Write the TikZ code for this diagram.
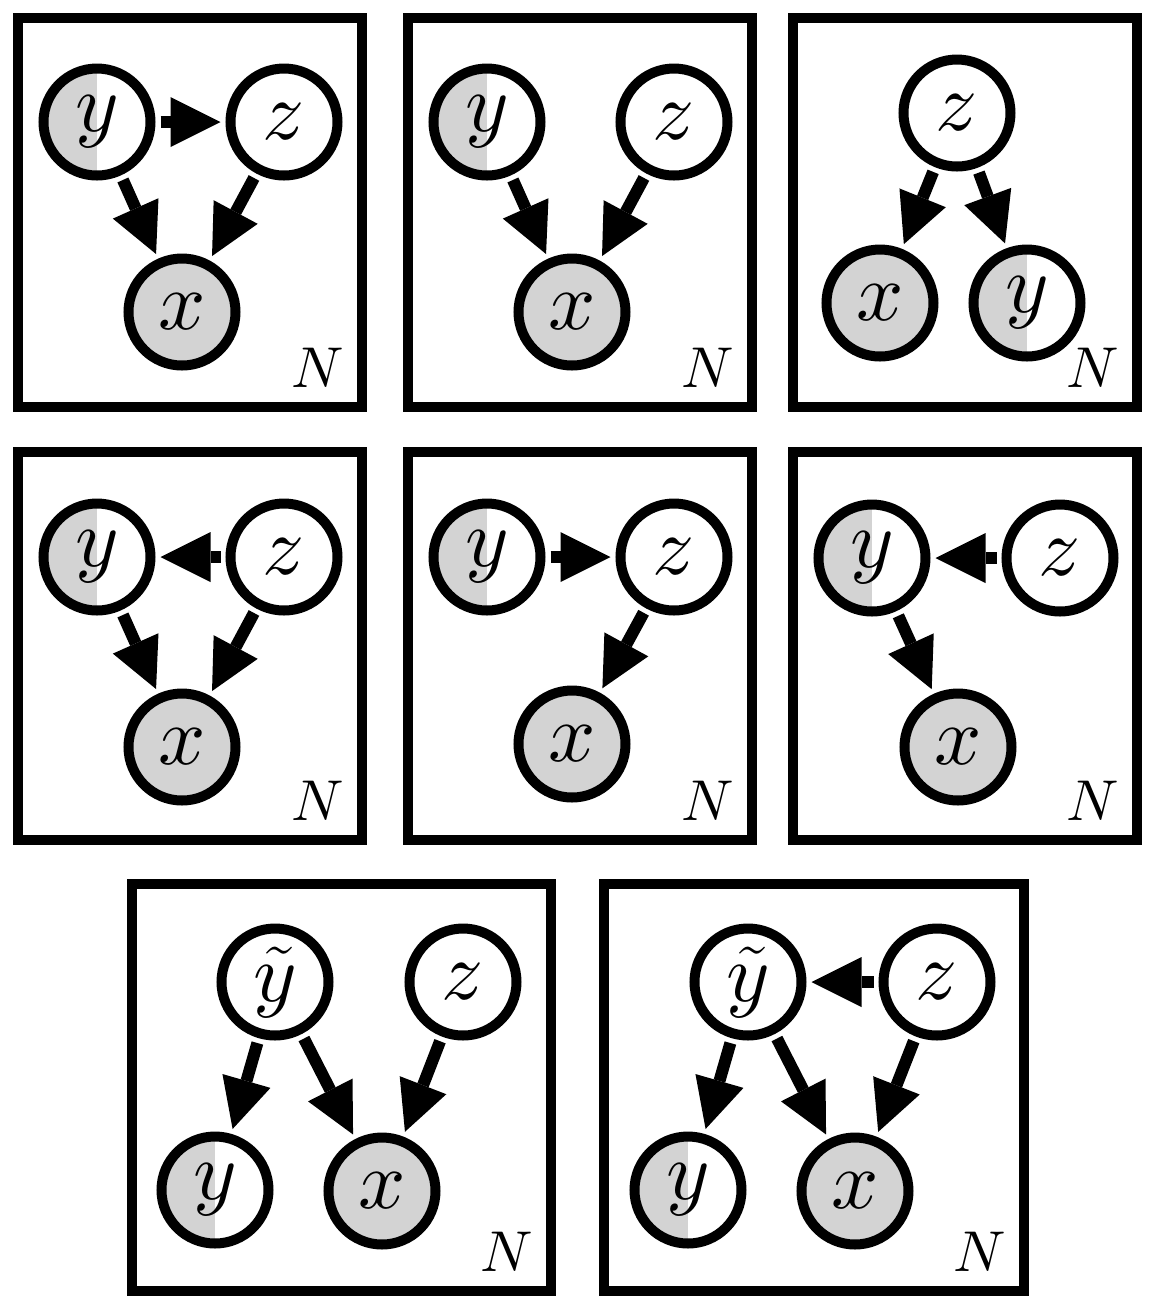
\documentclass[tikz,border=0pt]{standalone}
\usetikzlibrary{arrows.meta,positioning}
\DeclareFontShape{OML}{cmm}{m}{it}{<->cmmi10}{}
\definecolor{obsgray}{RGB}{211,211,211}
\tikzset{
plate/.style={draw,line width=2.5pt},
var/.style={circle,draw,line width=2.5pt,minimum size=26.75pt,inner sep=0pt,fill=white},
obs/.style={var,fill=obsgray},
halfobs/.style={var,path picture={\fill[obsgray] (path picture bounding box.south west) rectangle (path picture bounding box.north);}},
arr/.style={-{Triangle[length=12.5pt,width=12.5pt,line width=0pt]},line width=3pt,shorten <=1.25pt,shorten >=1.25pt},
platelabel/.style={font=\fontsize{14.4}{17}\selectfont,inner sep=0pt,anchor=base east},
}
\tikzstyle{every node}=[font=\fontsize{20.74}{25}\selectfont]

\begin{document}
\begin{tikzpicture}[x=0.25pt,y=-0.25pt]
    \useasboundingbox (0,0) rectangle (1173,1309);
    % top row
    \begin{scope}[shift={(18,18)}]
        \draw[plate] (0,0) rectangle (344,389);
        \node[halfobs] (ya) at (79,104) {$y$};
        \node[var] (za) at (266,104) {$z$};
        \node[obs] (xa) at (164,294) {$x$};
        \node[platelabel] (na) at (327,369) {$N$};
        \draw[arr] (ya) -- (za);
        \draw[arr] (ya) -- (xa);
        \draw[arr] (za) -- (xa);
    \end{scope}
    \begin{scope}[shift={(408,18)}]
        \draw[plate] (0,0) rectangle (344,389);
        \node[halfobs] (yb) at (79,104) {$y$};
        \node[var] (zb) at (266,104) {$z$};
        \node[obs] (xb) at (164,294) {$x$};
        \node[platelabel] (nb) at (327,369) {$N$};
        \draw[arr] (yb) -- (xb);
        \draw[arr] (zb) -- (xb);
    \end{scope}
    \begin{scope}[shift={(793,18)}]
        \draw[plate] (0,0) rectangle (344,389);
        \node[var] (zc) at (164,95) {$z$};
        \node[obs] (xc) at (87,285) {$x$};
        \node[halfobs] (yc) at (234,285) {$y$};
        \node[platelabel] (nc) at (327,369) {$N$};
        \draw[arr] (zc) -- (xc);
        \draw[arr] (zc) -- (yc);
    \end{scope}
    % middle row
    \begin{scope}[shift={(18,452)}]
        \draw[plate] (0,0) rectangle (344,388);
        \node[halfobs] (yd) at (79,105) {$y$};
        \node[var] (zd) at (266,105) {$z$};
        \node[obs] (xd) at (164,295) {$x$};
        \node[platelabel] (nd) at (327,368) {$N$};
        \draw[arr] (zd) -- (yd);
        \draw[arr] (yd) -- (xd);
        \draw[arr] (zd) -- (xd);
    \end{scope}
    \begin{scope}[shift={(408,452)}]
        \draw[plate] (0,0) rectangle (344,388);
        \node[halfobs] (ye) at (79,105) {$y$};
        \node[var] (ze) at (266,105) {$z$};
        \node[obs] (xe) at (164,292) {$x$};
        \node[platelabel] (ne) at (327,368) {$N$};
        \draw[arr] (ye) -- (ze);
        \draw[arr] (ze) -- (xe);
    \end{scope}
    \begin{scope}[shift={(793,452)}]
        \draw[plate] (0,0) rectangle (344,388);
        \node[halfobs] (yf) at (79,106) {$y$};
        \node[var] (zf) at (267,106) {$z$};
        \node[obs] (xf) at (165,295) {$x$};
        \node[platelabel] (nf) at (327,368) {$N$};
        \draw[arr] (zf) -- (yf);
        \draw[arr] (yf) -- (xf);
    \end{scope}
    % bottom row
    \begin{scope}[shift={(132,884)}]
        \draw[plate] (0,0) rectangle (419,407);
        \node[var] (tg) at (143,98) {$\tilde{y}$};
        \node[var] (zg) at (331,98) {$z$};
        \node[halfobs] (yg) at (83,306) {$y$};
        \node[obs] (xg) at (250,307) {$x$};
        \node[platelabel] (ng) at (402,387) {$N$};
        \draw[arr] (tg) -- (yg);
        \draw[arr] (tg) -- (xg);
        \draw[arr] (zg) -- (xg);
    \end{scope}
    \begin{scope}[shift={(604,884)}]
        \draw[plate] (0,0) rectangle (420,407);
        \node[var] (th) at (144,98) {$\tilde{y}$};
        \node[var] (zh) at (333,98) {$z$};
        \node[halfobs] (yh) at (84,306) {$y$};
        \node[obs] (xh) at (251,307) {$x$};
        \node[platelabel] (nh) at (403,387) {$N$};
        \draw[arr] (zh) -- (th);
        \draw[arr] (th) -- (yh);
        \draw[arr] (th) -- (xh);
        \draw[arr] (zh) -- (xh);
    \end{scope}
\end{tikzpicture}
\end{document}
